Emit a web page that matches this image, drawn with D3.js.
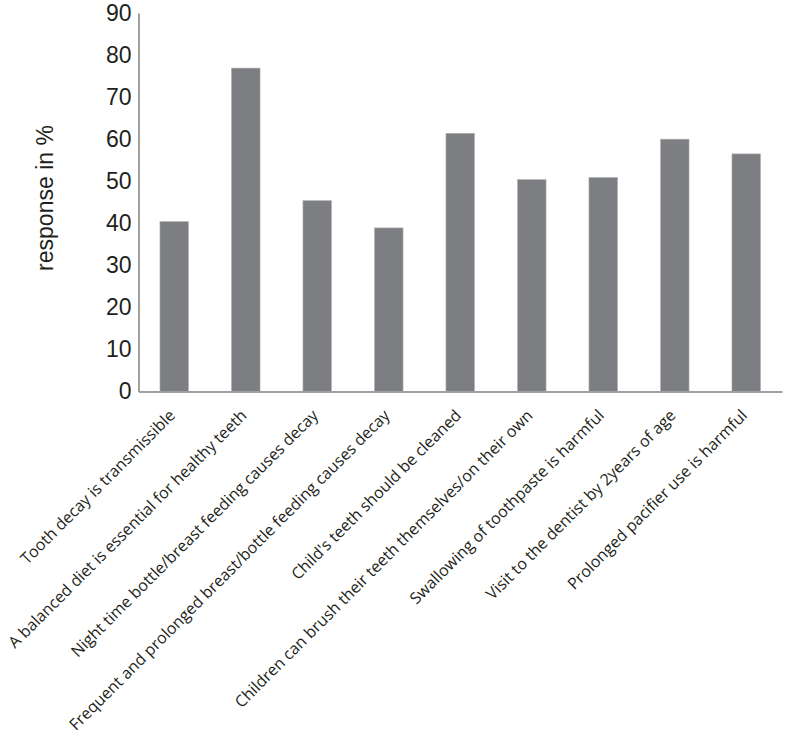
<!DOCTYPE html>
<html>
<head>
<meta charset="utf-8">
<script src="https://cdn.jsdelivr.net/npm/d3@7"></script>
<style>
    body { margin: 0; background: #fff; }
    .axis path { stroke: #a0a0a0; stroke-width: 2px; }
    .axis .tick line { display: none; }
    .y-axis .tick text { font-family: "Liberation Sans", Arial, sans-serif; font-size: 23px; fill: #231f20; }
    .x-axis .tick text { font-family: "Open Sans", sans-serif; font-size: 16px; fill: #231f20; }
</style>
</head>
<body>
<div id="chart"></div>
<script>
// data
let categories = [
    "Tooth decay is transmissible",
    "A balanced diet is essential for healthy teeth",
    "Night time bottle/breast feeding causes decay",
    "Frequent and prolonged breast/bottle feeding causes decay",
    "Child's teeth should be cleaned",
    "Children can brush their teeth themselves/on their own",
    "Swallowing of toothpaste is harmful",
    "Visit to the dentist by 2years of age",
    "Prolonged pacifier use is harmful"
];
let responses = [40.4, 76.9, 45.4, 38.9, 61.4, 50.4, 50.9, 60.0, 56.5];
let yTicks = [0, 10, 20, 30, 40, 50, 60, 70, 80, 90];

let margin = { top: 13, right: 5, bottom: 353, left: 138.5 };
let width = 787 - margin.left - margin.right;
let height = 744 - margin.top - margin.bottom;

let svg = d3.select("#chart").append("svg")
    .attr("width", 787)
    .attr("height", 744)
    .append("g")
    .attr("transform", "translate(" + margin.left + "," + margin.top + ")");

// Scales
let x = d3.scaleBand()
    .domain(categories)
    .range([0, width])
    .paddingInner(0.6)
    .paddingOuter(0.3);

let y = d3.scaleLinear()
    .domain([0, 90])
    .range([height + 0.5, 0]);

// Bars
svg.selectAll(".bar")
    .data(responses)
    .enter().append("rect")
    .attr("class", "bar")
    .attr("x", (d, i) => x(categories[i]))
    .attr("y", d => y(d))
    .attr("width", x.bandwidth())
    .attr("height", d => y(0) - y(d))
    .attr("fill", "#7d7e81")
    .attr("stroke", "#b5b5b5")
    .attr("stroke-width", 0.6);

// Axes
svg.append("g")
    .attr("class", "y-axis axis")
    .call(d3.axisLeft(y).tickValues(yTicks).tickSize(0).tickSizeOuter(0).tickPadding(7))
    .call(g => g.select(".domain").attr("fill", "none"));

let xAxis = svg.append("g")
    .attr("class", "x-axis axis")
    .attr("transform", "translate(0," + y(0) + ")")
    .call(d3.axisBottom(x).tickSize(0).tickSizeOuter(0));

xAxis.select(".domain").attr("fill", "none");

// rotated category labels
xAxis.selectAll(".tick text")
    .attr("text-anchor", "end")
    .attr("dy", "0.35em")
    .attr("transform", "translate(-2,21) rotate(-45)")
    .attr("y", 0)
    .attr("x", 0);

// Axis title
svg.append("text")
    .attr("transform", "translate(" + (45 - margin.left) + "," + (198 - margin.top) + ") rotate(-90)")
    .attr("text-anchor", "middle")
    .attr("dy", "0.35em")
    .style("font-family", "Liberation Sans, Arial, sans-serif")
    .style("font-size", "23px")
    .attr("fill", "#231f20")
    .text("response in %");
</script>
</body>
</html>
